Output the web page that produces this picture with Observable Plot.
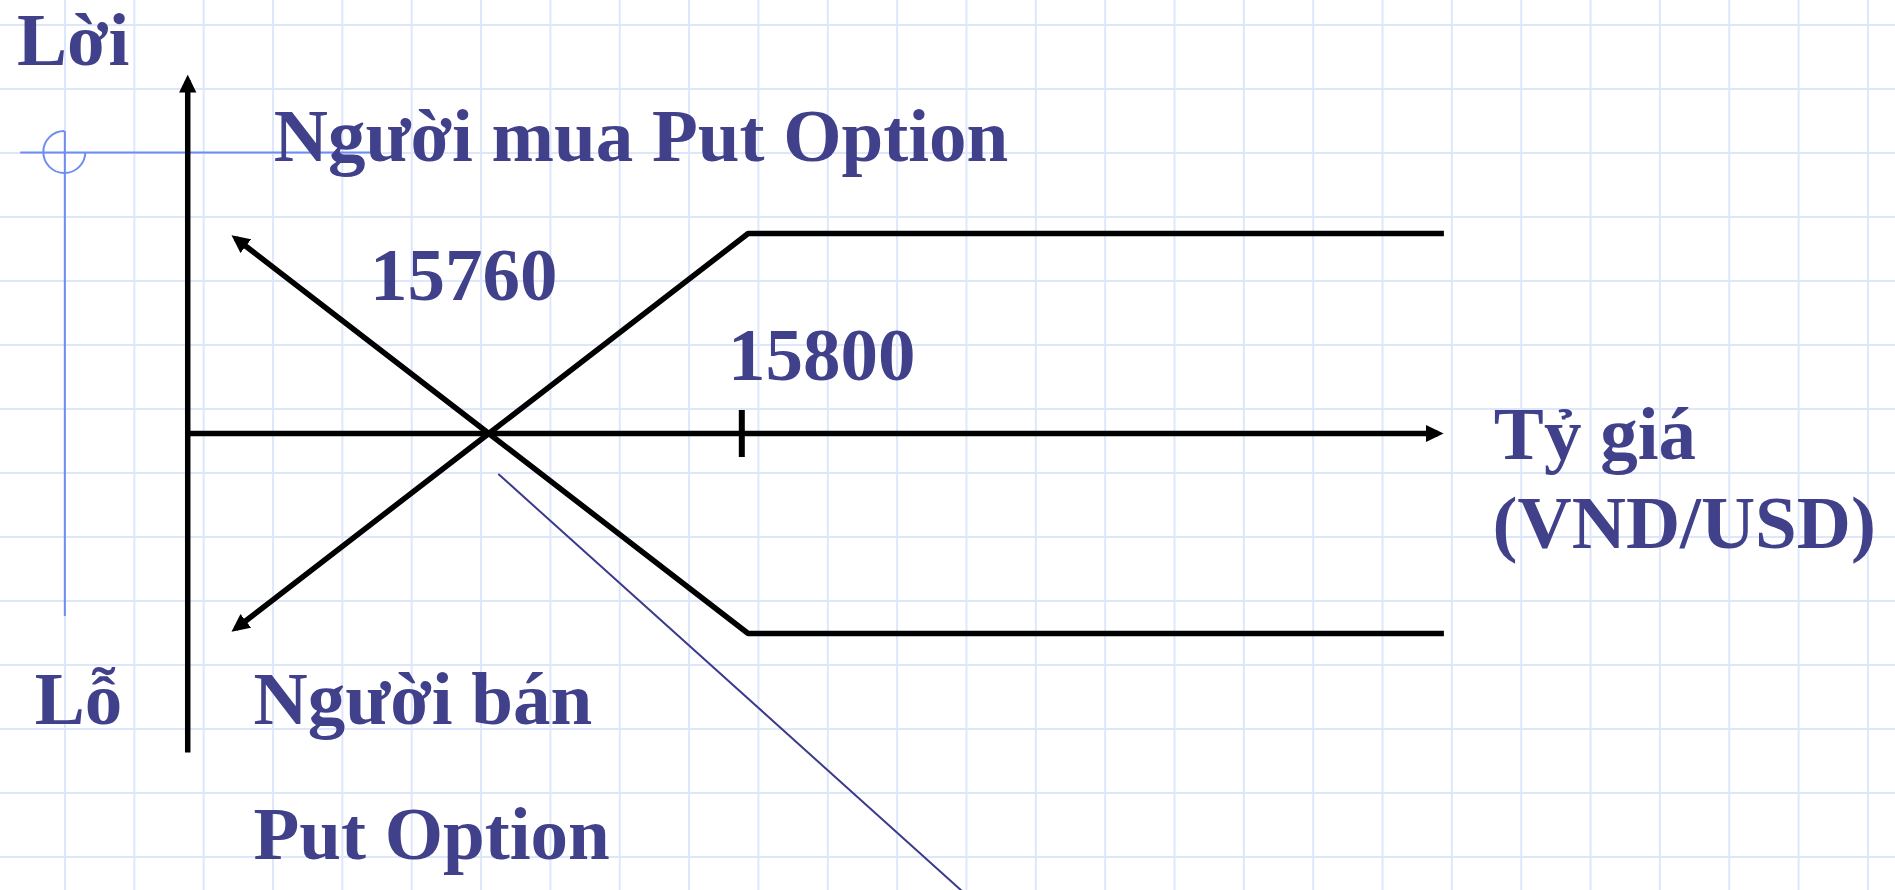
<!DOCTYPE html>
<html>
<head>
<meta charset="utf-8">
<script src="https://cdn.jsdelivr.net/npm/d3@7"></script>
<script src="https://cdn.jsdelivr.net/npm/@observablehq/plot@0.6"></script>
<style>
html, body { margin: 0; padding: 0; overflow: hidden; }
body {
  width: 1895px; height: 890px;
  background-color: #ffffff;
  background-image:
    linear-gradient(to right, #dde6fb 0, #dde6fb 2px, transparent 2px),
    linear-gradient(to bottom, #dde6fb 0, #dde6fb 2px, transparent 2px);
  background-size: 69.35px 64px;
  background-position: 64px 24px;
}
#chart svg { display: block; }
</style>
</head>
<body>
<div id="chart"></div>
<script>
// ---- scales (exchange rate VND/USD on x, profit in VND on y) ----
const xDomain = [15682.8, 15982.4];
const yDomain = [-91.4, 86.6];

// ---- key values ----
const breakEven = 15760;
const strike = 15800;
const tickLabels = ["15760", "15800"];

// ---- payoff lines ----
const buyerX  = [15720, 15760, 15801, 15911];
const buyerY  = [39, 0, -40, -40];
const sellerX = [15720, 15760, 15801, 15911];
const sellerY = [-39, 0, 40, 40];

// ---- axes ----
const profitAxisX = [15712.4, 15712.4];
const profitAxisY = [-63.8, 70.7];
const rateAxisX = [15712.4, 15910.1];
const rateAxisY = [0, 0];
const strikeTickY = [4.6, -4.8];

// ---- thin pointer line ----
const pointerX = [15761.6, 15837.0];
const pointerY = [-8.2, -94.0];

// ---- decorative crosshair of the slide ----
const crossX = [15686.0, 15742.1];
const crossY = [60.4, -36.6];
const crossCenter = [15692.97, 56.2];

// ---- text labels ----
const labelText = ["Lời", "Người mua Put Option", tickLabels[0], tickLabels[1], "Tỷ giá", "(VND/USD)", "Lỗ", "Người bán", "Put Option"];
const labelX = [15685.4, 15726.0, 15741.2, 15797.8, 15918.9, 15918.7, 15688.2, 15722.8, 15722.8];
const labelY = [73.8, 54.6, 26.8, 10.8, -5.0, -22.8, -58.0, -58.0, -85.0];

const toRows = (xs, ys) => xs.map((x, i) => ({x, y: ys[i]}));
const buyer = toRows(buyerX, buyerY);
const seller = toRows(sellerX, sellerY);
const profitAxis = toRows(profitAxisX, profitAxisY);
const rateAxis = toRows(rateAxisX, rateAxisY);
const pointer = toRows(pointerX, pointerY);
const labels = labelText.map((t, i) => ({t, x: labelX[i], y: labelY[i]}));

const SVGNS = "http://www.w3.org/2000/svg";
function filledArrow(color, context) {
  const doc = (context && context.document) || document;
  const m = doc.createElementNS(SVGNS, "marker");
  m.setAttribute("viewBox", "0 -5 10 10");
  m.setAttribute("refX", "7");
  m.setAttribute("refY", "0");
  m.setAttribute("markerUnits", "userSpaceOnUse");
  m.setAttribute("markerWidth", "18");
  m.setAttribute("markerHeight", "18");
  m.setAttribute("orient", "auto-start-reverse");
  const p = doc.createElementNS(SVGNS, "path");
  p.setAttribute("d", "M0,-4.8L10,0L0,4.8Z");
  p.setAttribute("fill", color);
  p.setAttribute("stroke", "none");
  m.appendChild(p);
  return m;
}

const blue = "#6d8df1";
const textColor = "#40418a";
const lineStyle = {x: "x", y: "y", stroke: "black", strokeWidth: 5.5, strokeLinecap: "butt", strokeLinejoin: "miter"};

function crossArc(index, scales) {
  const cx = scales.x(crossCenter[0]);
  const cy = scales.y(crossCenter[1]);
  const r = 21;
  const path = document.createElementNS(SVGNS, "path");
  path.setAttribute("d", `M${cx},${cy - r}A${r},${r} 0 1 0 ${cx + r},${cy}`);
  path.setAttribute("fill", "none");
  path.setAttribute("stroke", blue);
  path.setAttribute("stroke-width", "2");
  return path;
}

const chart = Plot.plot({
  width: 1895,
  height: 890,
  margin: 0,
  style: {background: "none", overflow: "visible"},
  x: {domain: xDomain, axis: null},
  y: {domain: yDomain, axis: null},
  marks: [
    // decorative crosshair
    Plot.ruleY([crossCenter[1]], {x1: crossX[0], x2: crossX[1], stroke: blue, strokeWidth: 2}),
    Plot.ruleX([crossCenter[0]], {y1: crossY[0], y2: crossY[1], stroke: blue, strokeWidth: 2}),
    crossArc,
    // axes
    Plot.line(profitAxis, {...lineStyle, markerEnd: filledArrow}),
    Plot.line(rateAxis, {...lineStyle, markerEnd: filledArrow}),
    Plot.ruleX([strike], {y1: strikeTickY[0], y2: strikeTickY[1], stroke: "black", strokeWidth: 6}),
    // payoff lines
    Plot.line(buyer, {...lineStyle, markerStart: filledArrow}),
    Plot.line(seller, {...lineStyle, markerStart: filledArrow}),
    // pointer
    Plot.line(pointer, {x: "x", y: "y", stroke: "#3a3b8c", strokeWidth: 2}),
    // labels
    Plot.text(labels, {
      x: "x", y: "y", text: "t",
      textAnchor: "start", lineAnchor: "bottom",
      fontFamily: "Liberation Serif", fontWeight: "bold", fontSize: 75,
      fill: textColor
    })
  ]
});
document.getElementById("chart").appendChild(chart);
</script>
</body>
</html>
